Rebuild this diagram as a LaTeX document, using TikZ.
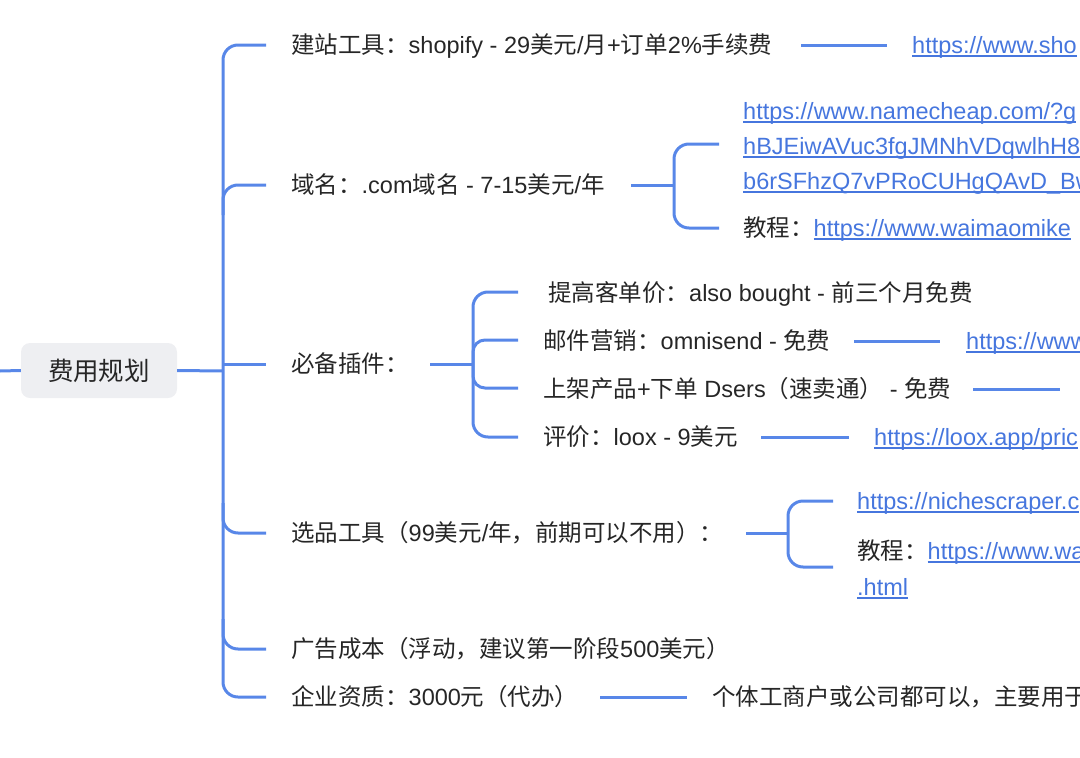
\documentclass[tikz,border=0pt]{standalone}
\usepackage{fontspec}
\setmainfont{Liberation Sans}
\newfontfamily\zh{Noto Sans CJK SC}
\definecolor{linec}{RGB}{88,135,232}
\definecolor{linkc}{RGB}{70,118,222}
\definecolor{txtc}{RGB}{38,38,38}
\definecolor{rootc}{RGB}{238,239,242}
\newcommand\lk[1]{\setbox0=\hbox{#1}\rlap{\color{linkc}\rule[-3.2pt]{\wd0}{1.3pt}}\box0}
\tikzset{
  txt/.style={anchor=base west, inner sep=0pt, text=txtc, font=\fontsize{23.5}{28}\selectfont},
  url/.style={txt, text=linkc},
  ln/.style={draw=linec, line width=3pt},
  rc/.style={ln, rounded corners=15pt},
  rootbox/.style={fill=rootc, rounded corners=9pt, minimum width=156pt, minimum height=55pt, inner sep=0pt, text=txtc, font=\fontsize{25.5}{30}\selectfont}
}
\begin{document}
\begin{tikzpicture}[x=1pt,y=-1pt]
\useasboundingbox (0,0) rectangle (1080,758);
\clip (0,0) rectangle (1080,758);
% root
\node[rootbox] (root) at (99,370.5) {{\zh 费用规划}};
\coordinate (lft) at (0,371);
\coordinate (tr) at (223,371);
% main branches
\node[txt] (b1) at (291,53.5) {{\zh 建站工具：}shopify - 29{\zh 美元}/{\zh 月}+{\zh 订单}2\%{\zh 手续费}};
\node[txt] (b2) at (291,193.5) {{\zh 域名：}.com{\zh 域名} - 7-15{\zh 美元}/{\zh 年}};
\node[txt] (b3) at (291,372.5) {{\zh 必备插件：}};
\node[txt] (b4) at (291,541.5) {{\zh 选品工具（}99{\zh 美元}/{\zh 年，前期可以不用）：}};
\node[txt] (b5) at (291,657.5) {{\zh 广告成本（浮动，建议第一阶段}500{\zh 美元）}};
\node[txt] (b6) at (291,705.5) {{\zh 企业资质：}3000{\zh 元（代办）}};
% sub nodes
\node[url] (u1) at (912,53.5) {\lk{https://www.sho}};
\node[url] (d1a) at (743,119.5) {\lk{https://www.namecheap.com/?g}};
\node[url] (d1b) at (743,154.5) {\lk{hBJEiwAVuc3fgJMNhVDqwlhH8}};
\node[url] (d1c) at (743,189.5) {\lk{b6rSFhzQ7vPRoCUHgQAvD\_Bw}};
\node[txt] (d2) at (743,236.5) {{\zh 教程：}{\color{linkc}\lk{https://www.waimaomike}}};
\node[txt] (p1) at (548,301.5) {{\zh 提高客单价：}also bought - {\zh 前三个月免费}};
\node[txt] (p2) at (543,349.5) {{\zh 邮件营销：}omnisend - {\zh 免费}};
\node[txt] (p3) at (543,397.5) {{\zh 上架产品}+{\zh 下单} Dsers{\zh （速卖通）} - {\zh 免费}};
\node[txt] (p4) at (543,445.5) {{\zh 评价：}loox - 9{\zh 美元}};
\node[url] (p2u) at (966,349.5) {\lk{https://www}};
\node[url] (p4u) at (874,445.5) {\lk{https://loox.app/pric}};
\node[url] (s1) at (857,509.5) {\lk{https://nichescraper.c}};
\node[txt] (s2) at (857,559.5) {{\zh 教程：}{\color{linkc}\lk{https://www.wa}}};
\node[url] (s3) at (857,595.5) {\lk{.html}};
\node[txt] (q1) at (712,705.5) {{\zh 个体工商户或公司都可以，主要用于}};
% coordinates
\coordinate (c1) at (266,45);
\coordinate (t2) at (223,215);
\coordinate (c2) at (266,185);
\coordinate (t3) at (223,364);
\coordinate (c3) at (266,364);
\coordinate (t4) at (223,503);
\coordinate (c4) at (266,533);
\coordinate (t5) at (223,619);
\coordinate (c5) at (266,649);
\coordinate (c6) at (266,697);
% main connectors
\draw[ln] (lft) -- (root.west);
\draw[ln] (root.east) -- (tr);
\draw[rc] (c1) -| (tr) |- (c6);
\draw[rc] (t2) |- (c2);
\draw[ln] (t3) -- (c3);
\draw[rc] (t4) |- (c4);
\draw[rc] (t5) |- (c5);
% domain bracket
\coordinate (d0) at (631,185);
\coordinate (dj) at (674,185);
\coordinate (dt) at (719,144);
\coordinate (db) at (719,228);
\draw[ln] (d0) -- (dj);
\draw[rc] (dt) -| (dj) |- (db);
% plugin bracket
\coordinate (e0) at (430,364);
\coordinate (ej) at (473,364);
\coordinate (e1) at (518,292);
\coordinate (e2) at (518,340);
\coordinate (e3) at (518,388);
\coordinate (e4) at (518,437);
\draw[ln] (e0) -- (ej);
\draw[rc] (e1) -| (ej) |- (e4);
\draw[ln, rounded corners=12pt] (ej) |- (e2);
\draw[ln, rounded corners=12pt] (ej) |- (e3);
% product tool bracket
\coordinate (f0) at (746,533);
\coordinate (fj) at (788,533);
\coordinate (f1) at (833,501);
\coordinate (f2) at (833,567);
\draw[ln] (f0) -- (fj);
\draw[rc] (f1) -| (fj) |- (f2);
% link lines
\coordinate (g1a) at (801,45);  \coordinate (g1b) at (887,45);
\coordinate (g2a) at (854,341); \coordinate (g2b) at (940,341);
\coordinate (g3a) at (973,389); \coordinate (g3b) at (1060,389);
\coordinate (g4a) at (761,437); \coordinate (g4b) at (849,437);
\coordinate (g5a) at (600,697); \coordinate (g5b) at (687,697);
\draw[ln] (g1a) -- (g1b);
\draw[ln] (g2a) -- (g2b);
\draw[ln] (g3a) -- (g3b);
\draw[ln] (g4a) -- (g4b);
\draw[ln] (g5a) -- (g5b);
\end{tikzpicture}
\end{document}
